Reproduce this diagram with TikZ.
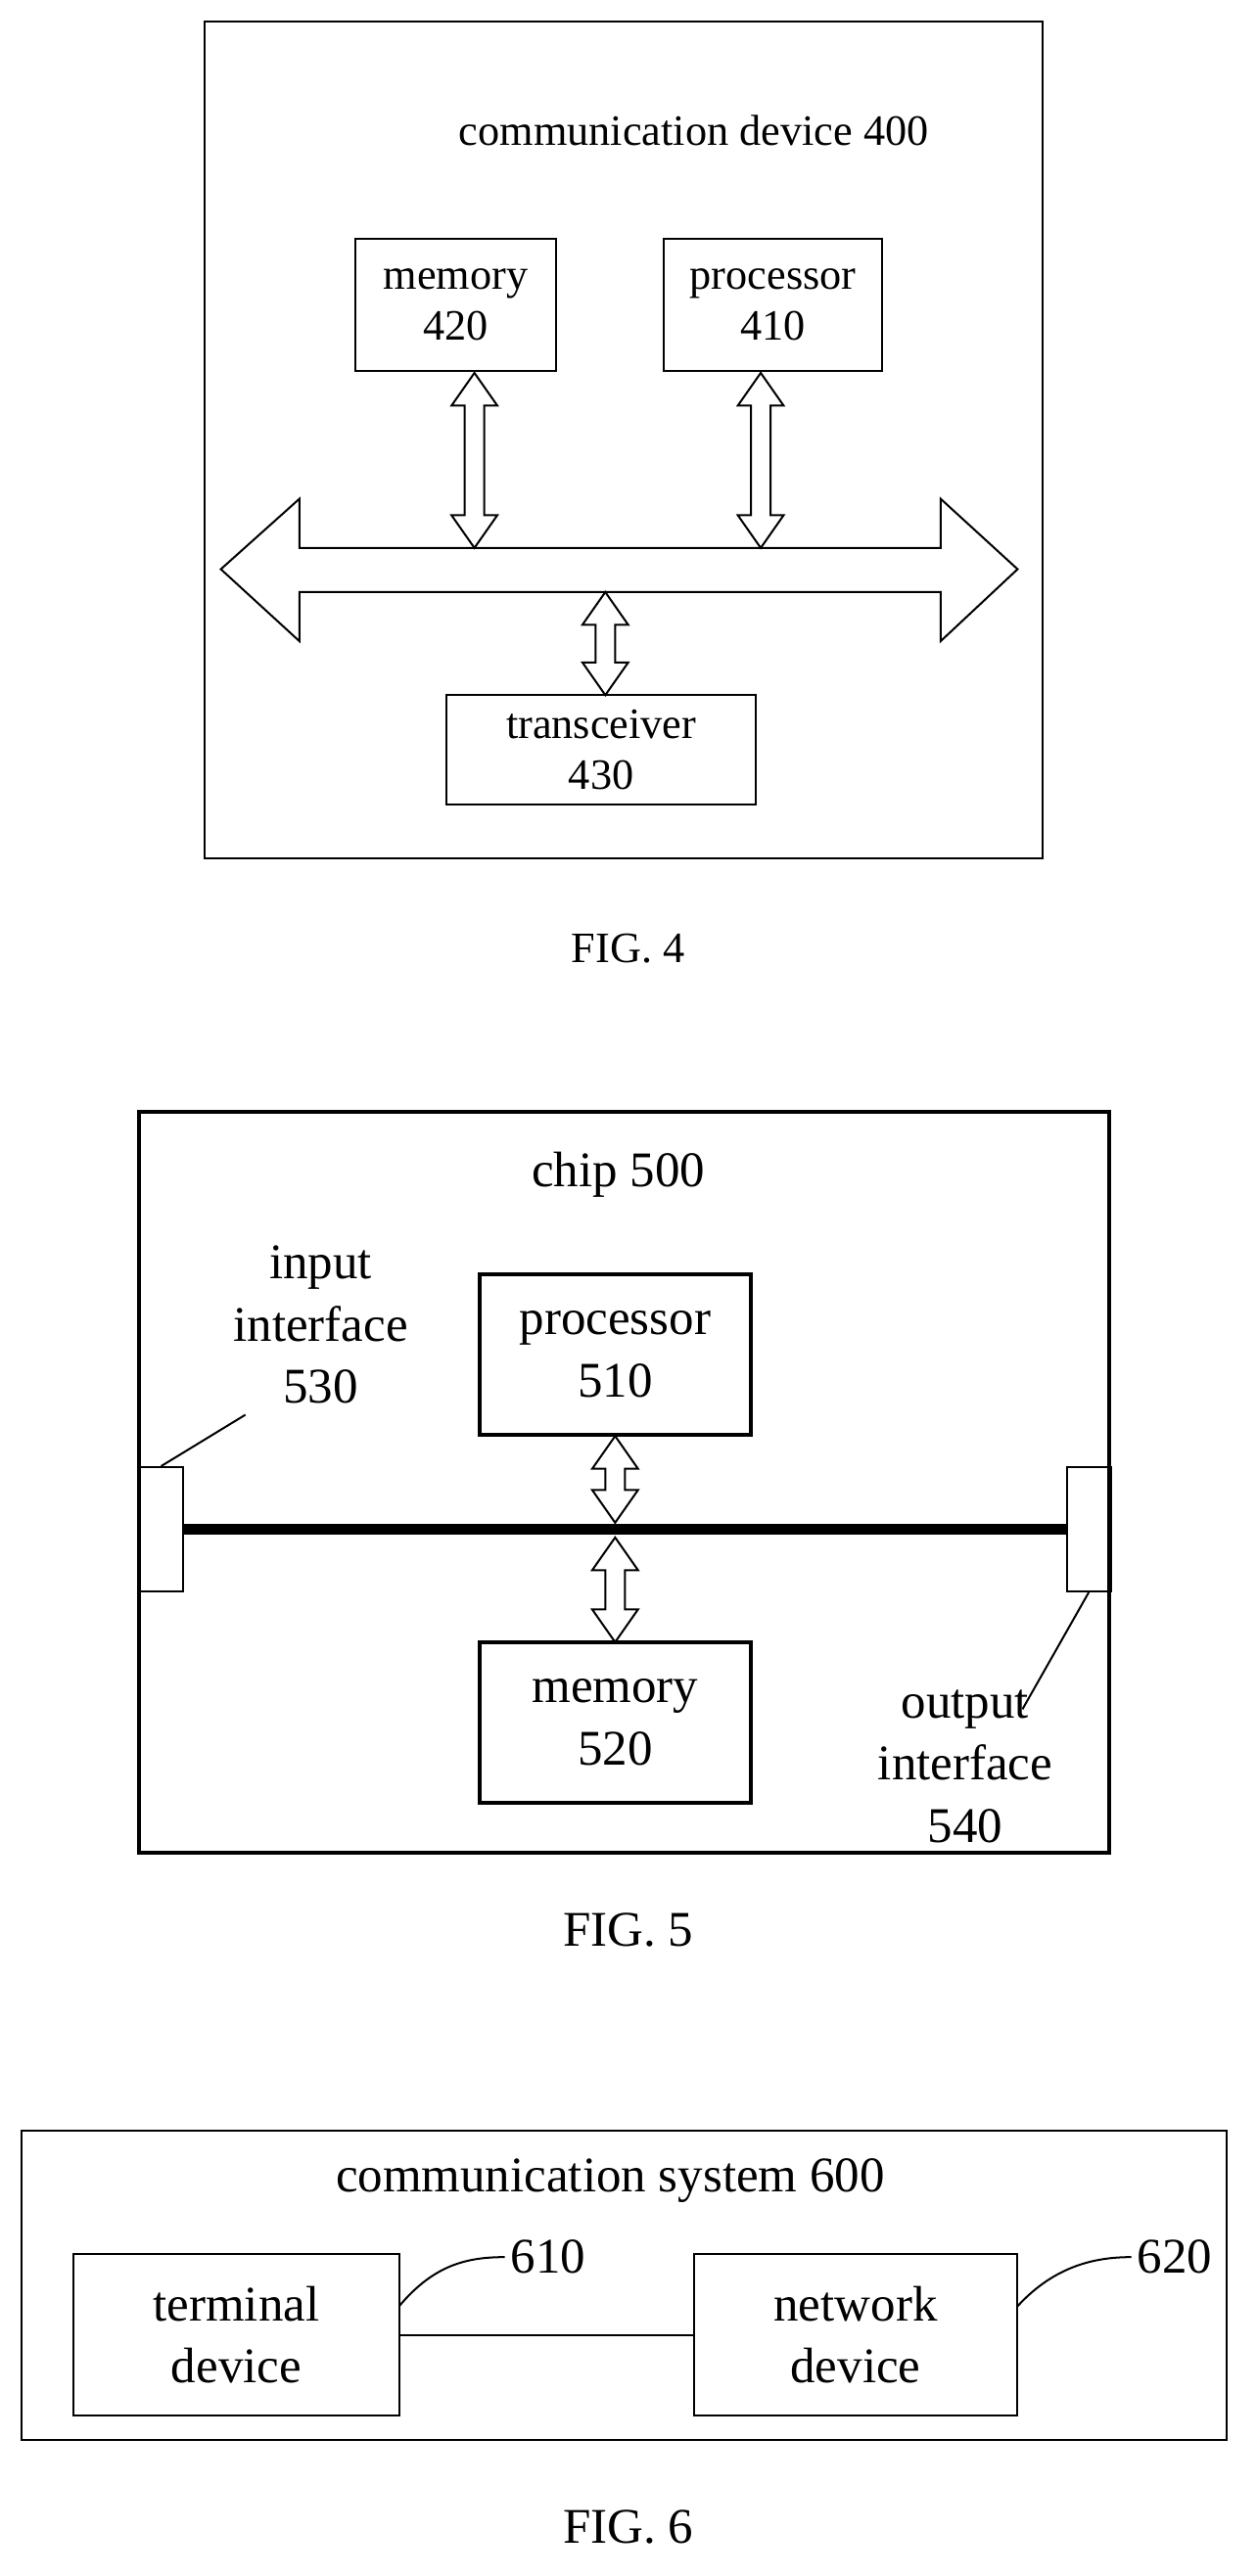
\documentclass[tikz,border=0pt]{standalone}
\usepackage{fontspec}
\setmainfont{Liberation Serif}
\begin{document}
\begin{tikzpicture}[x=1pt,y=-1pt,
  fa/.style={font=\fontsize{26.5}{31}\selectfont,align=center},
  fb/.style={font=\fontsize{30.5}{38}\selectfont,align=center},
  thin box/.style={draw,line width=1.2pt},
  thick box/.style={draw,line width=2.4pt}]
\useasboundingbox (0,0) rectangle (768,1575);
% FIG 4
\node[thin box,minimum width=512,minimum height=512] (dev) at (381,269) {};
\node[fa] (t4) at (424,80) {communication device 400};
\node[thin box,fa,minimum width=123,minimum height=81] (mem4) at (278.5,186.5) {memory\\420};
\node[thin box,fa,minimum width=133,minimum height=81] (proc4) at (472.5,186.5) {processor\\410};
\node[thin box,fa,minimum width=189,minimum height=67] (tr) at (367.5,458.5) {transceiver\\430};
\draw[line width=1.2pt] (135,348) -- (183,305) -- (183,335) -- (575,335) -- (575,305) -- (622,348) -- (575,392) -- (575,362) -- (183,362) -- (183,392) -- cycle;
\newcommand{\varrow}[4]{% x, ytop, ybot, lw
  \draw[line width=#4] (#1,#2) -- (#1+14,#2+20) -- (#1+6,#2+20) -- (#1+6,#3-20) -- (#1+14,#3-20) -- (#1,#3) -- (#1-14,#3-20) -- (#1-6,#3-20) -- (#1-6,#2+20) -- (#1-14,#2+20) -- cycle;}
\varrow{290}{228}{335}{1.2pt}
\varrow{465}{228}{335}{1.2pt}
\varrow{370}{362}{425}{1.2pt}
\node[fa] (f4) at (384,580) {FIG. 4};
% FIG 5
\node[thick box,minimum width=593,minimum height=453] (chip) at (381.5,906.5) {};
\node[fb] (t5) at (378,718) {chip 500};
\node[thick box,fb,minimum width=166,minimum height=98] (proc5) at (376,828) {processor\\510};
\node[thick box,fb,minimum width=166,minimum height=98] (mem5) at (376,1053) {memory\\520};
\node[draw,line width=1.2pt,minimum width=27,minimum height=76] (in) at (98.5,935) {};
\node[draw,line width=1.2pt,minimum width=27,minimum height=76] (out) at (665.5,935) {};
\draw[line width=7pt] (in.east) -- (out.west);
\varrow{376}{878}{931}{1.2pt}
\varrow{376}{940}{1004}{1.2pt}
\node[fb] (l530) at (196,810) {input\\interface\\530};
\node[fb] (l540) at (590,1080) {output\\interface\\540};
\draw[line width=1.2pt] (in.north) -- (150,865);
\draw[line width=1.2pt] (out.south) -- (625,1045);
\node[fb] (f5) at (384,1180) {FIG. 5};
% FIG 6
\node[thin box,minimum width=737,minimum height=189] (sys) at (381.5,1397.5) {};
\node[fb] (t6) at (373,1333) {communication system 600};
\node[thin box,fb,minimum width=199,minimum height=99] (term) at (144.5,1427.5) {terminal\\device};
\node[thin box,fb,minimum width=198,minimum height=99] (net) at (523,1427.5) {network\\device};
\draw[line width=1.2pt] (term.east) -- (net.west);
\node[fb] (n610) at (335,1380) {610};
\node[fb] (n620) at (718,1380) {620};
\draw[line width=1.2pt] (244,1410) .. controls (265,1385) and (285,1380) .. (n610.west);
\draw[line width=1.2pt] (622,1410) .. controls (645,1385) and (670,1380) .. (n620.west);
\node[fb] (f6) at (384,1545) {FIG. 6};
\end{tikzpicture}
\end{document}
